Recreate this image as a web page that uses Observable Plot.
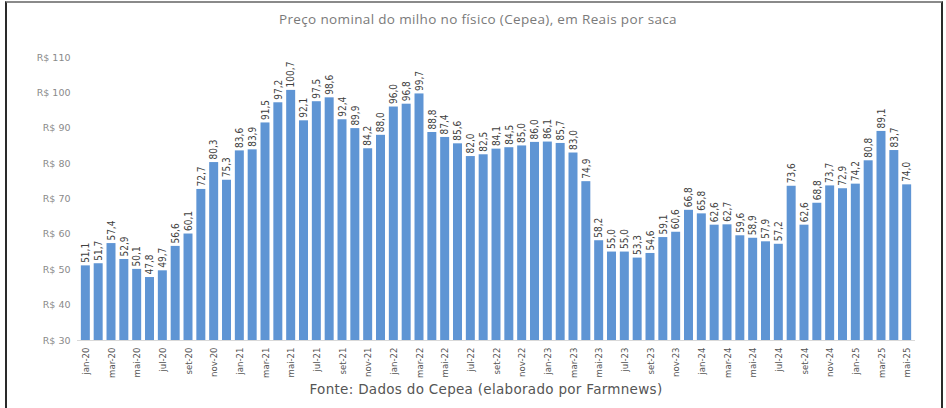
<!DOCTYPE html>
<html>
<head>
<meta charset="utf-8">
<script src="https://cdn.jsdelivr.net/npm/d3@7"></script>
<script src="https://cdn.jsdelivr.net/npm/@observablehq/plot@0.6"></script>
<style>
  html, body { margin: 0; padding: 0; background: #fff; }
  #wrap { position: relative; width: 946px; height: 408px; overflow: hidden; background: #fff; }
  #frame { position: absolute; left: 5px; top: 1px; width: 938px; height: 420px;
           border-left: 2px solid #2a2a2a; border-right: 2px solid #2a2a2a; border-top: 2px solid #8a8a8a; box-sizing: border-box; }
  #title { position: absolute; top: 10px; left: 0; width: 956px; text-align: center;
           font-family: "Open Sans", sans-serif; font-size: 13.5px; letter-spacing: 0.35px; color: #7a7a7a; }
  #chart { position: absolute; left: 0; top: 0; }
  #caption { position: absolute; top: 381px; left: 0; width: 972px; text-align: center;
             font-family: "DejaVu Sans", Verdana, sans-serif; font-size: 13.5px; letter-spacing: 0.3px; color: #555; }
</style>
</head>
<body>
<div id="wrap">
  <div id="frame"></div>
  <div id="chart"></div>
  <div id="title">Preço nominal do milho no físico (Cepea), em Reais por saca</div>
  <div id="caption">Fonte: Dados do Cepea (elaborado por Farmnews)</div>
</div>
<script>
const monthNames = ["jan","fev","mar","abr","mai","jun","jul","ago","set","out","nov","dez"];
const years = ["20","21","22","23","24","25"];
const months = [];
for (const y of years) for (const m of monthNames) { if (months.length < 65) months.push(m + "-" + y); }

const prices = [
  51.1, 51.7, 57.4, 52.9, 50.1, 47.8, 49.7, 56.6, 60.1, 72.7, 80.3, 75.3,
  83.6, 83.9, 91.5, 97.2, 100.7, 92.1, 97.5, 98.6, 92.4, 89.9, 84.2, 88.0,
  96.0, 96.8, 99.7, 88.8, 87.4, 85.6, 82.0, 82.5, 84.1, 84.5, 85.0, 86.0,
  86.1, 85.7, 83.0, 74.9, 58.2, 55.0, 55.0, 53.3, 54.6, 59.1, 60.6, 66.8,
  65.8, 62.6, 62.7, 59.6, 58.9, 57.9, 57.2, 73.6, 62.6, 68.8, 73.7, 72.9,
  74.2, 80.8, 89.1, 83.7, 74.0
];
const yTicks = [30, 40, 50, 60, 70, 80, 90, 100, 110];
const xTicks = months.filter((d, i) => i % 2 === 0);

const data = months.map((m, i) => ({month: m, value: prices[i]}));
const fmt = v => v.toFixed(1).replace(".", ",");

const chart = Plot.plot({
  width: 946,
  height: 380,
  marginLeft: 77,
  marginRight: 31,
  marginTop: 57,
  marginBottom: 40,
  style: {background: "transparent", overflow: "visible"},
  x: {type: "band", domain: months, padding: 0.3, label: null, ticks: xTicks},
  y: {domain: [30, 110], label: null, ticks: yTicks},
  marks: [
    Plot.ruleY([30], {stroke: "#d9d9d9"}),
    Plot.barY(data, {x: "month", y1: 30, y2: "value", fill: "#5f95d4"}),
    Plot.text(data, {x: "month", y: "value", text: d => fmt(d.value), rotate: -90,
      textAnchor: "start", lineAnchor: "middle", dy: -3,
      fontFamily: "'Liberation Sans Narrow', 'DejaVu Sans Condensed', sans-serif",
      fontSize: 10, fill: "#404040"}),
    Plot.axisX({ticks: xTicks, tickRotate: -90, tickSize: 0, tickPadding: 7,
      fontFamily: "'Liberation Sans Narrow', 'DejaVu Sans Condensed', sans-serif",
      fontSize: 9.5, fill: "#555", label: null}),
    Plot.axisY({ticks: yTicks, tickSize: 0, tickPadding: 7, tickFormat: d => "R$ " + d,
      fontFamily: "'DejaVu Sans', Verdana, sans-serif", fontSize: 9.5, fill: "#8a8a8a", label: null})
  ]
});
document.getElementById("chart").appendChild(chart);
</script>
</body>
</html>
